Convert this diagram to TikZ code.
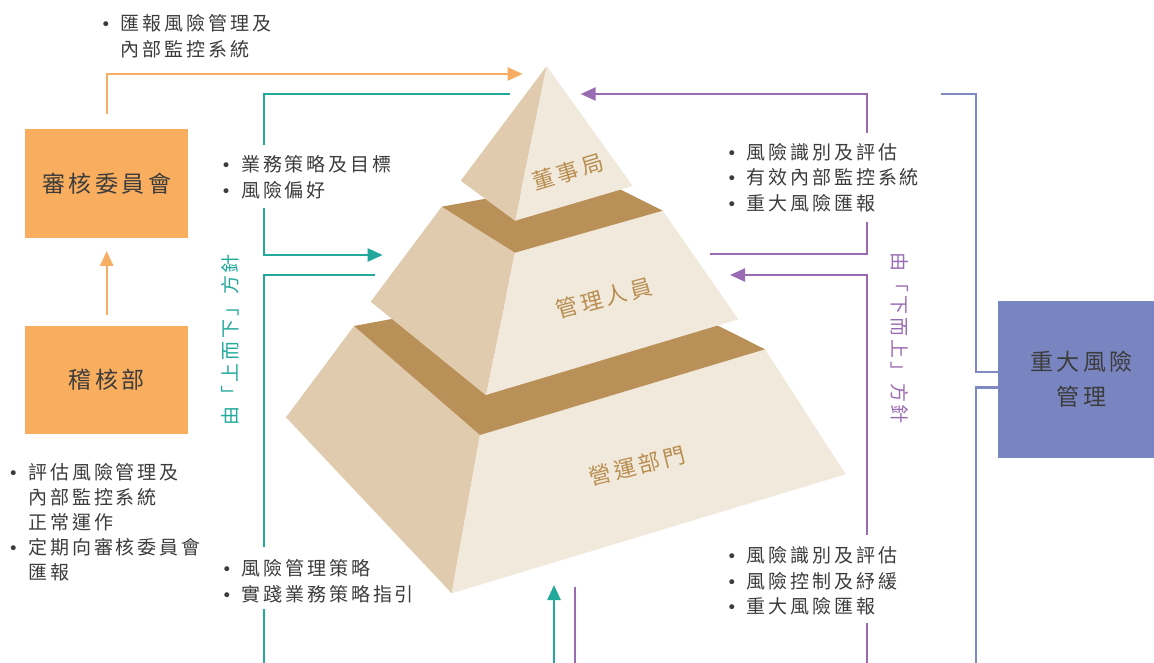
\documentclass[tikz,border=0pt]{standalone}
\usepackage{fontspec}
\usetikzlibrary{arrows.meta}
\newfontfamily\cjk[LetterSpace=15]{Noto Sans CJK TC}
\newfontfamily\dejavu{DejaVu Sans}
\definecolor{orangeB}{HTML}{F9AE5F}
\definecolor{orangeL}{HTML}{F8AE62}
\definecolor{tealL}{HTML}{22A99C}
\definecolor{purpL}{HTML}{9A6BB3}
\definecolor{blueB}{HTML}{7985C0}
\definecolor{blueL}{HTML}{7E89C5}
\definecolor{tanL}{HTML}{E1CBAE}
\definecolor{lightR}{HTML}{F2E9DD}
\definecolor{brownT}{HTML}{B99158}
\definecolor{goldT}{HTML}{B88E4F}
\definecolor{darkT}{HTML}{3C3C3C}
\newcommand\bul{\makebox[20pt][l]{\dejavu\fontsize{17}{17}\selectfont •}}
\newcommand\nob{\hphantom{\bul}}
\tikzset{
  ln/.style={line width=2.4pt},
  arr/.style={-{Triangle[length=15pt,width=13pt]}},
  boxst/.style={inner sep=0pt, minimum width=163.5pt, minimum height=108.5pt,
    font=\cjk\fontsize{23}{23}\selectfont, text=darkT},
  lst/.style={anchor=north west, inner sep=0pt, align=left, text=darkT,
    font=\cjk\fontsize{19}{25.7}\selectfont},
  pyr/.style={text=goldT, font=\cjk\fontsize{22}{22}\selectfont, inner sep=0pt},
  vt/.style={font=\cjk\fontsize{19}{19}\selectfont, inner sep=0pt}
}
\begin{document}
\begin{tikzpicture}[x=1pt,y=-1pt]
\useasboundingbox (0,0) rectangle (1154,663);
% ---------- pyramid ----------
% bottom tier
\fill[tanL] (354,326) -- (480,435) -- (451.7,593.3) -- (286,417.3) -- cycle;
\fill[lightR] (480,435) -- (765,349.3) -- (845.7,474.3) -- (451.7,593.3) -- cycle;
\fill[brownT] (354,326) -- (620.2,276.5) -- (765,349.3) -- (480,435) -- cycle;
% middle tier
\fill[tanL] (441.7,206.7) -- (515,252.7) -- (485.7,395) -- (370.7,301.7) -- cycle;
\fill[lightR] (515,252.7) -- (662.7,210.7) -- (738.3,319.3) -- (485.7,395) -- cycle;
\fill[brownT] (441.7,206.7) -- (598,178.3) -- (662.7,210.7) -- (515,252.7) -- cycle;
% top tier
\fill[tanL] (546.7,66) -- (460.7,180.7) -- (515,220.7) -- cycle;
\fill[lightR] (546.7,66) -- (515,220.7) -- (632.7,186) -- cycle;
\node[pyr, rotate=17] (board) at (568,172) {董事局};
\node[pyr, rotate=15] (mgmt) at (604,298) {管理人員};
\node[pyr, rotate=14] (ops) at (637,466) {營運部門};
% ---------- boxes ----------
\node[boxst, fill=orangeB] (committee) at (106.7,183.5) {審核委員會};
\node[boxst, fill=orangeB] (audit) at (106.7,380.2) {稽核部};
\node[inner sep=0pt, minimum width=168pt, minimum height=157pt, fill=blueB,
  align=center, text=darkT, font=\cjk\fontsize{23}{35}\selectfont]
  (risk) at (1081.7,379.2) {重大風險\\管理};
% ---------- texts ----------
\node[lst] (txtA) at (100.7,14.3) {\bul 匯報風險管理及\\\nob 內部監控系統};
\node[lst] (txtB) at (221,155) {\bul 業務策略及目標\\\bul 風險偏好};
\node[lst] (txtC) at (221.7,559.3) {\bul 風險管理策略\\\bul 實踐業務策略指引};
\node[lst, font=\cjk\fontsize{19}{25}\selectfont] (txtD) at (8.3,462.7)
  {\bul 評估風險管理及\\\nob 內部監控系統\\\nob 正常運作\\\bul 定期向審核委員會\\\nob 匯報};
\node[lst] (txtE) at (726.7,142.7) {\bul 風險識別及評估\\\bul 有效內部監控系統\\\bul 重大風險匯報};
\node[lst] (txtF) at (726.7,546) {\bul 風險識別及評估\\\bul 風險控制及紓緩\\\bul 重大風險匯報};
\node[vt, text=tealL, rotate=90] (topdown) at (230.7,340) {由「上而下」方針};
\node[vt, text=purpL, rotate=-90] (bottomup) at (900,338) {由「下而上」方針};
% ---------- orange connectors ----------
\coordinate (o2) at (522.7,74);
\draw[ln, orangeL, arr] ([yshift=15pt]committee.north) |- (o2);
\draw[ln, orangeL, arr] ([yshift=11pt]audit.north) -- ([yshift=-13pt]committee.south);
% ---------- teal connectors ----------
\coordinate (t1) at (510,94);
\coordinate (t2) at (264,145);
\coordinate (t3) at (264,208);
\coordinate (t4) at (382.7,255);
\coordinate (t5) at (375,275);
\coordinate (t6) at (264,547.3);
\coordinate (t7) at (264,609.3);
\coordinate (t8) at (264,663);
\coordinate (t9) at (554,663);
\coordinate (t10) at (554,585);
\draw[ln, tealL] (t1) -| (t2);
\draw[ln, tealL, arr] (t3) |- (t4);
\draw[ln, tealL] (t5) -| (t6);
\draw[ln, tealL] (t7) -- (t8);
\draw[ln, tealL, arr] (t9) -- (t10);
% ---------- purple connectors ----------
\coordinate (p1) at (710,254.3);
\coordinate (p2) at (866.7,221.7);
\coordinate (p3) at (866.7,133.3);
\coordinate (p4) at (580.7,94);
\coordinate (p5) at (866.7,535);
\coordinate (p6) at (730,275);
\coordinate (p7) at (866.7,622.7);
\coordinate (p8) at (866.7,663);
\coordinate (p9) at (575,586.7);
\coordinate (p10) at (575,663);
\draw[ln, purpL] (p1) -| (p2);
\draw[ln, purpL, arr] (p3) |- (p4);
\draw[ln, purpL, arr] (p5) |- (p6);
\draw[ln, purpL] (p7) -- (p8);
\draw[ln, purpL] (p9) -- (p10);
% ---------- blue connectors ----------
\coordinate (b1) at (940.7,94);
\coordinate (b2) at (975.7,371.7);
\coordinate (b3) at (975.7,387.3);
\coordinate (b4) at (975.7,663);
\draw[ln, blueL] (b1) -| (b2) -- (b2 -| risk.west);
\draw[ln, blueL] (b3 -| risk.west) -- (b3) -- (b4);
\end{tikzpicture}
\end{document}
